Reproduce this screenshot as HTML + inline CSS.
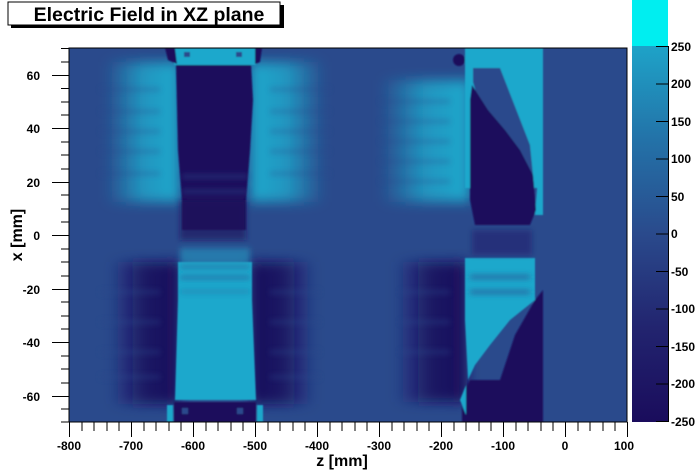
<!DOCTYPE html>
<html><head><style>
html,body{margin:0;padding:0;background:#fff;}
svg{display:block;font-family:"Liberation Sans",Arial,sans-serif;font-weight:bold;}
</style></head><body>
<svg width="696" height="472" viewBox="0 0 696 472" xmlns="http://www.w3.org/2000/svg">
<defs>
<filter id="b6" x="-30%" y="-30%" width="160%" height="160%"><feGaussianBlur stdDeviation="6"/></filter>
<filter id="b3" x="-30%" y="-30%" width="160%" height="160%"><feGaussianBlur stdDeviation="3"/></filter>
<filter id="b1"><feGaussianBlur stdDeviation="0.8"/></filter>
<linearGradient id="cb" x1="0" y1="1" x2="0" y2="0">
<stop offset="0" stop-color="#1a0c5c"/><stop offset="0.25" stop-color="#22246f"/><stop offset="0.5" stop-color="#2a4a8c"/><stop offset="0.75" stop-color="#2372a8"/><stop offset="1" stop-color="#1ea3c8"/>
</linearGradient>
<linearGradient id="lfL" x1="0" x2="1"><stop offset="0" stop-color="#1ea8cc" stop-opacity="0"/><stop offset="0.5" stop-color="#1ea8cc" stop-opacity="0.8"/><stop offset="1" stop-color="#1ea8cc"/></linearGradient>
<linearGradient id="lfR" x1="1" x2="0"><stop offset="0" stop-color="#1ea8cc" stop-opacity="0"/><stop offset="0.5" stop-color="#1ea8cc" stop-opacity="0.8"/><stop offset="1" stop-color="#1ea8cc"/></linearGradient>
<linearGradient id="dfL" x1="0" x2="1"><stop offset="0" stop-color="#1a0c5c" stop-opacity="0"/><stop offset="0.5" stop-color="#1a0c5c" stop-opacity="0.85"/><stop offset="1" stop-color="#1a0c5c"/></linearGradient>
<linearGradient id="dfR" x1="1" x2="0"><stop offset="0" stop-color="#1a0c5c" stop-opacity="0"/><stop offset="0.5" stop-color="#1a0c5c" stop-opacity="0.85"/><stop offset="1" stop-color="#1a0c5c"/></linearGradient>
<clipPath id="pc"><rect x="69" y="48" width="558" height="374"/></clipPath>
</defs>

<!-- title -->
<rect x="11" y="5" width="273" height="23" fill="#000"/>
<rect x="8" y="2" width="272" height="23" fill="#fff" stroke="#000" stroke-width="1"/>
<text x="149" y="21" font-size="19.5" text-anchor="middle">Electric Field in XZ plane</text>

<g clip-path="url(#pc)">
<rect x="69" y="48" width="558" height="374" fill="#2a4a8c"/>
<g filter="url(#b6)">
<rect x="105" y="62" width="75" height="140" fill="url(#lfL)"/>
<rect x="250" y="62" width="75" height="140" fill="url(#lfR)"/>
<rect x="110" y="262" width="70" height="142" fill="url(#dfL)"/>
<rect x="250" y="262" width="65" height="142" fill="url(#dfR)"/>
<rect x="380" y="80" width="90" height="122" fill="url(#lfL)"/>
<rect x="395" y="262" width="72" height="140" fill="url(#dfL)"/>
</g>
<g fill="#2a4a8c" opacity="0.4" filter="url(#b3)">
<rect x="100" y="88" width="60" height="3"/><rect x="100" y="110" width="60" height="3"/><rect x="100" y="130" width="60" height="3"/><rect x="100" y="150" width="60" height="3"/><rect x="100" y="172" width="60" height="3"/>
<rect x="270" y="88" width="60" height="3"/><rect x="270" y="110" width="60" height="3"/><rect x="270" y="130" width="60" height="3"/><rect x="270" y="150" width="60" height="3"/><rect x="270" y="172" width="60" height="3"/>
<rect x="380" y="100" width="70" height="3"/><rect x="380" y="120" width="70" height="3"/><rect x="380" y="140" width="70" height="3"/><rect x="380" y="160" width="70" height="3"/><rect x="380" y="180" width="70" height="3"/>
<rect x="100" y="290" width="60" height="4"/><rect x="100" y="320" width="60" height="4"/><rect x="100" y="350" width="60" height="4"/><rect x="100" y="375" width="60" height="4"/>
<rect x="270" y="290" width="50" height="4"/><rect x="270" y="320" width="50" height="4"/><rect x="270" y="350" width="50" height="4"/><rect x="270" y="375" width="50" height="4"/>
<rect x="400" y="290" width="50" height="4"/><rect x="400" y="320" width="50" height="4"/><rect x="400" y="350" width="50" height="4"/>
</g>
<g filter="url(#b1)">
<path d="M176,64 L251,64 L253,100 L250,150 L246,200 L246,230 L182,230 L182,200 L178,150 Z" fill="#1a0c5c"/>
<rect x="174" y="48" width="82" height="17" fill="#1ea8cc"/>
<path d="M165,48 L175,48 L177,64 L168,60 Z" fill="#1a0c5c"/>
<path d="M255,48 L262,48 L260,62 L255,64 Z" fill="#1a0c5c"/>
<rect x="184" y="52" width="6" height="5" fill="#2a4a8c"/><rect x="236" y="52" width="6" height="5" fill="#2a4a8c"/>
<path d="M178,262 L252,262 L252,300 L256,400 L175,400 L178,300 Z" fill="#1ea8cc"/>
<rect x="174" y="402" width="82" height="20" fill="#1a0c5c"/>
<rect x="182" y="408" width="6" height="6" fill="#2a4a8c"/><rect x="237" y="408" width="6" height="6" fill="#2a4a8c"/>
<rect x="167" y="405" width="6" height="17" fill="#1ea8cc"/><rect x="257" y="405" width="6" height="17" fill="#1ea8cc"/>
</g>
<g filter="url(#b3)">
<rect x="180" y="200" width="66" height="40" fill="#1a0c5c" opacity="0.6"/>
<rect x="180" y="248" width="70" height="16" fill="#1ea8cc" opacity="0.5"/>
<rect x="180" y="265" width="70" height="3" fill="#2a4a8c" opacity="0.7"/><rect x="180" y="276" width="70" height="3" fill="#2a4a8c" opacity="0.7"/><rect x="180" y="290" width="70" height="3" fill="#2a4a8c" opacity="0.4"/>
<rect x="182" y="175" width="66" height="3" fill="#2a4a8c" opacity="0.7"/><rect x="182" y="190" width="66" height="3" fill="#2a4a8c" opacity="0.7"/>
</g>
<g filter="url(#b1)">
<rect x="465" y="48" width="78" height="140" fill="#1ea8cc"/>
<path d="M540,150 L543,150 L543,215 L535,215 Z" fill="#1ea8cc"/>
<path d="M473,68 L500,68 L530,145 L535,195 L515,160 L490,140 L473,82 Z" fill="#2a4a8c"/>
<path d="M472,85 L488,110 L505,130 L520,150 L533,175 L536,210 L530,225 L475,225 L470,200 L470,100 Z" fill="#1a0c5c"/>
<circle cx="459" cy="60" r="6" fill="#1a0c5c"/>
<path d="M465,258 L535,258 L535,300 L510,320 L490,345 L475,365 L468,380 L465,320 Z" fill="#1ea8cc"/>
<path d="M535,300 L543,290 L543,422 L470,422 L470,380 L500,380 L515,335 Z" fill="#1a0c5c"/>
<path d="M462,395 L470,380 L470,422 L462,422 Z" fill="#1a0c5c"/>
<path d="M460,400 L466,385 L466,415 Z" fill="#1ea8cc"/>
</g>
<g filter="url(#b3)">
<rect x="472" y="230" width="60" height="25" fill="#1a0c5c" opacity="0.35"/>
<rect x="470" y="275" width="60" height="4" fill="#2a4a8c" opacity="0.7"/><rect x="470" y="290" width="60" height="4" fill="#2a4a8c" opacity="0.7"/>
</g>
</g>
<rect x="69" y="48" width="558" height="374" fill="none" stroke="#000" stroke-width="1"/>

<g stroke="#000" stroke-width="1">
<path d="M52,75.5H69M52,128.5H69M52,182.5H69M52,235.5H69M52,289.5H69M52,342.5H69M52,396.5H69"/>
<path d="M61,48.5H69M61,62H69M61,88.5H69M61,102H69M61,115H69M61,142H69M61,155H69M61,169H69M61,195H69M61,209H69M61,222H69M61,249H69M61,262H69M61,276H69M61,302H69M61,316H69M61,329H69M61,356H69M61,369H69M61,383H69M61,409H69M61,422H69"/>
</g>
<g font-size="12" text-anchor="end">
<text x="40" y="80">60</text><text x="40" y="133">40</text><text x="40" y="187">20</text><text x="40" y="240">0</text><text x="40" y="294">-20</text><text x="40" y="347">-40</text><text x="40" y="401">-60</text>
</g>
<text transform="translate(22,235) rotate(-90)" font-size="16" text-anchor="middle">x [mm]</text>

<path stroke="#000" stroke-width="1" d="M69.5,422V437M131.5,422V437M193.5,422V437M255.5,422V437M317.5,422V437M379.5,422V437M441.5,422V437M503.5,422V437M565.5,422V437M627.5,422V437
M82,422V431M94,422V431M107,422V431M119,422V431M144,422V431M156,422V431M169,422V431M181,422V431M206,422V431M218,422V431M231,422V431M243,422V431M268,422V431M280,422V431M293,422V431M305,422V431M330,422V431M342,422V431M355,422V431M367,422V431M392,422V431M404,422V431M417,422V431M429,422V431M454,422V431M466,422V431M479,422V431M491,422V431M516,422V431M528,422V431M541,422V431M553,422V431M578,422V431M590,422V431M603,422V431M615,422V431"/>
<g font-size="12" text-anchor="middle">
<text x="69" y="450">-800</text><text x="131" y="450">-700</text><text x="193" y="450">-600</text><text x="255" y="450">-500</text><text x="317" y="450">-400</text><text x="379" y="450">-300</text><text x="441" y="450">-200</text><text x="503" y="450">-100</text><text x="565" y="450">0</text><text x="624" y="450">100</text>
</g>
<text x="342" y="466" font-size="16" text-anchor="middle">z [mm]</text>

<rect x="632" y="0" width="36" height="46" fill="#00eef0"/>
<rect x="632" y="46" width="36" height="376" fill="url(#cb)"/>
<path stroke="#000" stroke-width="1" d="M668.5,46V422M656,46.5H668M656,84H668M656,121.5H668M656,159H668M656,196.5H668M656,234H668M656,271.5H668M656,309H668M656,346.5H668M656,384H668M656,421.5H668"/>
<g font-size="12">
<text x="671" y="51">250</text><text x="671" y="88">200</text><text x="671" y="126">150</text><text x="671" y="163">100</text><text x="671" y="201">50</text><text x="671" y="238">0</text><text x="671" y="276">-50</text><text x="671" y="313">-100</text><text x="671" y="351">-150</text><text x="671" y="388">-200</text><text x="671" y="426">-250</text>
</g>
</svg>
</body></html>
